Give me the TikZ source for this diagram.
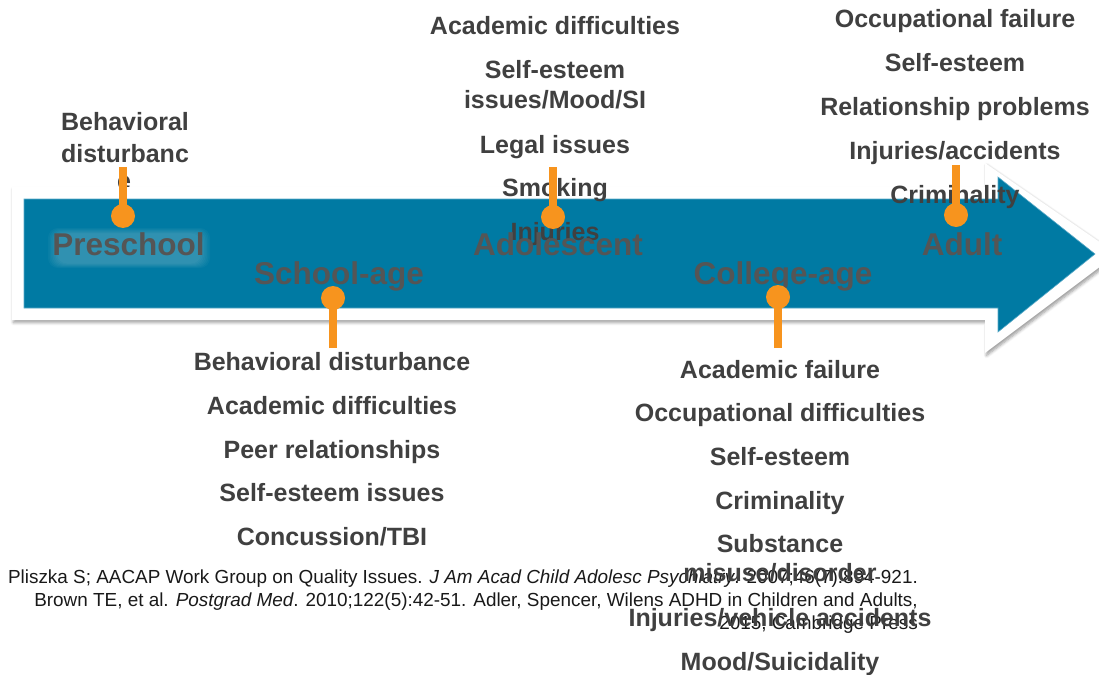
\documentclass[tikz,border=0pt]{standalone}
\usepackage{fontspec}
\setmainfont{Liberation Sans}
\usetikzlibrary{shadows.blur}
\definecolor{arrowblue}{RGB}{0,122,163}
\definecolor{arrowedge}{RGB}{90,170,200}
\definecolor{dotorange}{RGB}{247,148,30}
\definecolor{itemgray}{RGB}{64,64,64}
\definecolor{stagegray}{RGB}{85,85,85}
\definecolor{citeblack}{RGB}{25,25,25}
\begin{document}
\begin{tikzpicture}[x=1pt,y=-1pt,
  item/.style={font=\fontsize{25}{30}\selectfont\bfseries, text=itemgray, anchor=base, inner sep=0pt},
  stage/.style={font=\fontsize{31.5}{36}\selectfont\bfseries, text=stagegray, anchor=base, inner sep=0pt},
  cite/.style={font=\fontsize{18.9}{23}\selectfont, text=citeblack, anchor=base east, inner sep=0pt},
  tick/.style={draw=dotorange, line width=8pt},
  dot/.style={circle, fill=dotorange, minimum size=24pt, inner sep=0pt},
  halo/.style={fill=white, opacity=0.03, rounded corners=10pt},
]
\useasboundingbox (0,0) rectangle (1099,674);

% Preschool items sit behind the timeline arrow
\node[item] (pre1) at (125,131) {Behavioral};
\node[item] (pre2) at (125,162) {disturbanc};
\node[item] (pre3) at (124,189) {e};

% timeline arrow: white frame with shadow, blue body
\fill[white, blur shadow={shadow xshift=1.5pt, shadow yshift=-2.5pt, shadow blur steps=6, shadow blur radius=3pt, shadow opacity=40}]
  (12,187) -- (985,187) -- (985,163) -- (1117,254) -- (985,353) -- (985,320) -- (12,320) -- cycle;
\fill[arrowblue, draw=arrowedge, line width=0.6pt]
  (24,199) -- (998,199) -- (998,177) -- (1095,254) -- (998,332) -- (998,308) -- (24,308) -- cycle;

% Adolescent items
\node[item] (ado1) at (555,35) {Academic difficulties};
\node[item] (ado2) at (555,79) {Self-esteem};
\node[item] (ado3) at (555,109) {issues/Mood/SI};
\node[item] (ado4) at (555,153) {Legal issues};
\node[item] (ado5) at (555,196) {Smoking};
\node[item] (ado6) at (555,240) {Injuries};

% Adult items
\node[item] (adu1) at (955,28) {Occupational failure};
\node[item] (adu2) at (955,72) {Self-esteem};
\node[item] (adu3) at (955,115) {Relationship problems};
\node[item] (adu4) at (955,159) {Injuries/accidents};
\node[item] (adu5) at (955,203) {Criminality};

% School-age items
\node[item] (sch1) at (332,370) {Behavioral disturbance};
\node[item] (sch2) at (332,414) {Academic difficulties};
\node[item] (sch3) at (332,458) {Peer relationships};
\node[item] (sch4) at (332,501) {Self-esteem issues};
\node[item] (sch5) at (332,545) {Concussion/TBI};

% references
\node[cite] (ref1) at (918,583) {Pliszka S; AACAP Work Group on Quality Issues. \textit{J Am Acad Child Adolesc Psychiatry}. 2007;46(7):894-921.};
\node[cite] (ref2) at (918,606) {Brown TE, et al. \textit{Postgrad Med}. 2010;122(5):42-51. Adler, Spencer, Wilens ADHD in Children and Adults,};
\node[cite] (ref3) at (918,629) {2015, Cambridge Press};

% College-age items
\node[item] (col1) at (780,378) {Academic failure};
\node[item] (col2) at (780,421) {Occupational difficulties};
\node[item] (col3) at (780,465) {Self-esteem};
\node[item] (col4) at (780,509) {Criminality};
\node[item] (col5) at (780,552) {Substance};
\node[item] (col6) at (780,581) {misuse/disorder};
\node[item] (col7) at (780,626) {Injuries/vehicle accidents};
\node[item] (col8) at (780,670) {Mood/Suicidality};

% soft glow behind the Preschool label
\foreach \g in {0,1.5,...,9}
  \fill[halo] (48+\g,228+\g*0.6) rectangle (210-\g,268-\g*0.5);

% stage labels
\node[stage] (preschool) at (128.5,255) {Preschool};
\node[stage] (schoolage) at (339,284) {School-age};
\node[stage] (adolescent) at (558,255) {Adolescent};
\node[stage] (collegeage) at (783,284) {College-age};
\node[stage] (adult) at (962,255) {Adult};

% orange markers
\node[dot] (dpre) at (123,216) {};
\node[dot] (dsch) at (333,298) {};
\node[dot] (dado) at (553,217) {};
\node[dot] (dcol) at (778,297) {};
\node[dot] (dadu) at (956,215) {};
\coordinate (tpre) at (123,167);
\coordinate (tsch) at (333,348);
\coordinate (tado) at (553,167);
\coordinate (tcol) at (778,348);
\coordinate (tadu) at (956,165);
\draw[tick] (tpre) -- (dpre.center);
\draw[tick] (tsch) -- (dsch.center);
\draw[tick] (tado) -- (dado.center);
\draw[tick] (tcol) -- (dcol.center);
\draw[tick] (tadu) -- (dadu.center);
\end{tikzpicture}
\end{document}
